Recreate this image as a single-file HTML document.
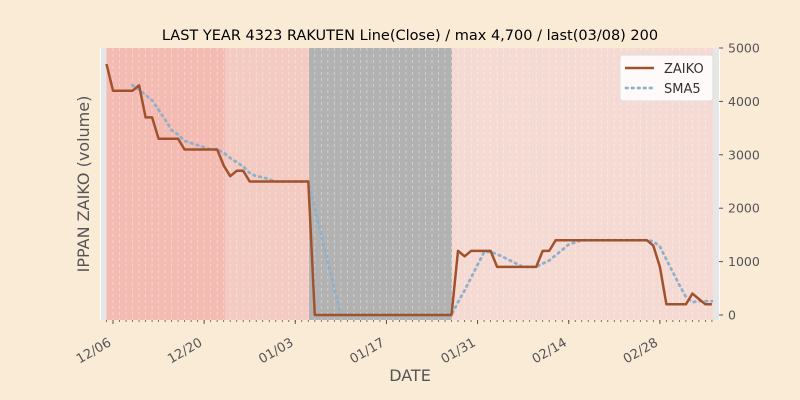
<!DOCTYPE html>
<html><head><meta charset="utf-8"><style>
html,body{margin:0;padding:0;background:#faebd7;}
svg{display:block;font-family:"DejaVu Sans","Liberation Sans",sans-serif;}
</style></head><body>
<svg id="s" width="800" height="400" xmlns="http://www.w3.org/2000/svg"></svg>
<script>
const s=document.getElementById('s');
const X0=106.5,DX=6.51,Y0=315,K=0.0534;
const x=d=>X0+d*DX, y=v=>Y0-v*K;
let h='';
h+='<rect x="100" y="48" width="620" height="272" fill="#ffffff"/>';
h+='<rect x="101" y="48" width="618" height="272" fill="#e6e6e6"/>';
h+='<rect x="106.5" y="48" width="118.5" height="272" fill="#f4bbb3"/>';
h+='<rect x="225" y="48" width="84" height="272" fill="#f4cbc2"/>';
h+='<rect x="309" y="48" width="143" height="272" fill="#b2b2b2"/>';
h+='<rect x="452" y="48" width="261" height="272" fill="#f5dad4"/>';
for(let d=1;d<93;d++){h+=`<line x1="${x(d)}" y1="48" x2="${x(d)}" y2="320" stroke="#fff" stroke-opacity="0.45" stroke-width="0.8" stroke-dasharray="3,3"/>`;}
const pts={0:4700,1:4200,4:4200,5:4300,6:3700,7:3700,8:3300,11:3300,12:3100,17:3100,18:2800,19:2600,20:2700,21:2700,22:2500,31:2500,32:0,53:0,54:1200,55:1100,56:1200,59:1200,60:900,66:900,67:1200,68:1200,69:1400,83:1400,84:1300,85:900,86:200,89:200,90:400,91:300,92:200,93:200};
const keys=Object.keys(pts).map(Number).sort((a,b)=>a-b);
const data=[];
for(let d=0;d<=93;d++){
 if(pts[d]!==undefined){data.push(pts[d]);continue;}
 let a=keys.filter(k=>k<d).pop(),b=keys.find(k=>k>d);
 data.push(pts[a]+(pts[b]-pts[a])*(d-a)/(b-a));
}
let sma=[];
for(let d=4;d<=93;d++){let m=0;for(let i=0;i<5;i++)m+=data[d-i];sma.push(`${x(d).toFixed(1)},${y(m/5).toFixed(1)}`);}
h+=`<polyline points="${sma.join(' ')}" fill="none" stroke="#8fb0c8" stroke-width="2.8" stroke-dasharray="1.5,4.5" stroke-linecap="round"/>`;
h+=`<polyline points="${data.map((v,d)=>x(d).toFixed(1)+','+y(v).toFixed(1)).join(' ')}" fill="none" stroke="#a0522d" stroke-width="2.5" stroke-linejoin="round"/>`;
[0,1000,2000,3000,4000,5000].forEach(v=>{h+=`<line x1="719" y1="${y(v)}" x2="723" y2="${y(v)}" stroke="#555"/><text x="728" y="${y(v)+4.5}" font-size="12.5" fill="#555">${v}</text>`;});
for(let d=0;d<=93;d++){h+=`<line x1="${x(d)}" y1="320" x2="${x(d)}" y2="322" stroke="#555" stroke-width="0.8"/>`;}
['12/06','12/20','01/03','01/17','01/31','02/14','02/28'].forEach((l,i)=>{const xx=x(1+14*i);
h+=`<line x1="${xx}" y1="320" x2="${xx}" y2="324" stroke="#555"/><text transform="translate(${xx-1},${345}) rotate(-30)" text-anchor="end" font-size="13" fill="#555">${l}</text>`;});
h+='<text x="410" y="381" text-anchor="middle" font-size="16" fill="#555">DATE</text>';
h+='<text transform="translate(89,184) rotate(-90)" text-anchor="middle" font-size="16" fill="#555">IPPAN ZAIKO (volume)</text>';
h+='<text x="410" y="40" text-anchor="middle" font-size="14.5" fill="#000">LAST YEAR 4323 RAKUTEN Line(Close) / max 4,700 / last(03/08) 200</text>';
h+='<rect x="620" y="55" width="93" height="46" rx="3" fill="#fff" fill-opacity="0.85" stroke="#ddd"/>';
h+='<line x1="625" y1="68" x2="654" y2="68" stroke="#a0522d" stroke-width="2.5"/><text x="664" y="73" font-size="13" fill="#333">ZAIKO</text>';
h+='<line x1="626" y1="88" x2="654" y2="88" stroke="#8fb0c8" stroke-width="2.8" stroke-dasharray="1.5,4.5" stroke-linecap="round"/><text x="664" y="93" font-size="13" fill="#333">SMA5</text>';
s.innerHTML=h;
</script>
</body></html>
